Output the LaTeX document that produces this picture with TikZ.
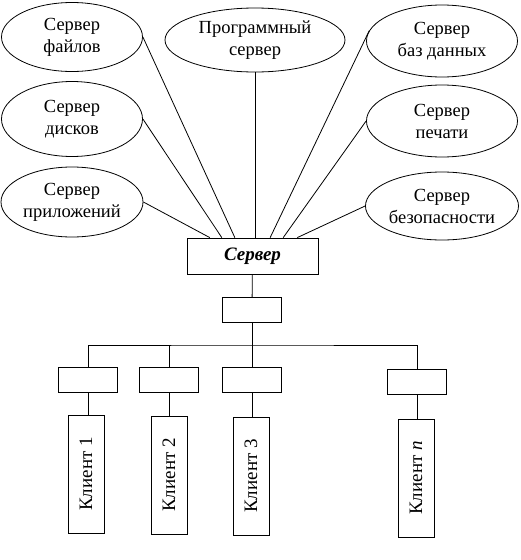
\documentclass[tikz,border=0pt]{standalone}
\usepackage{fontspec}
\setmainfont{Liberation Serif}
\usetikzlibrary{shapes.geometric, calc}

\begin{document}
\begin{tikzpicture}[x=1pt, y=-1pt, line width=0.8pt,
    srvell/.style={draw, ellipse, align=center, inner sep=0pt,
        font=\fontsize{18.5}{22}\selectfont},
    hubbox/.style={draw, rectangle, inner sep=0pt, minimum width=59pt, minimum height=25pt},
    clbox/.style={draw, rectangle, rotate=90, inner sep=0pt,
        minimum width=118pt, minimum height=36pt, font=\fontsize{19}{22}\selectfont}]

    \useasboundingbox (0,0) rectangle (521,560);

    % --- SERVER ELLIPSES, LEFT COLUMN ---
    \node[srvell, minimum width=141pt, minimum height=69pt] (ef) at (72,37) {Сервер\\файлов};
    \node[srvell, minimum width=141pt, minimum height=75pt] (ed) at (72,119) {Сервер\\дисков};
    \node[srvell, minimum width=142pt, minimum height=70pt] (ea) at (72,202) {Сервер\\приложений};

    % --- MIDDLE ELLIPSE ---
    \node[srvell, minimum width=180pt, minimum height=64pt] (ep) at (255,40) {Программный\\сервер};

    % --- SERVER ELLIPSES, RIGHT COLUMN ---
    \node[srvell, minimum width=151pt, minimum height=72pt] (eb) at (442,41) {Сервер\\баз данных};
    \node[srvell, minimum width=151pt, minimum height=72pt] (epc) at (442,121) {Сервер\\печати};
    \node[srvell, minimum width=153pt, minimum height=68pt] (es) at (442,206) {Сервер\\безопасности};

    % --- CENTRAL SERVER AND HUB ---
    \node[draw, rectangle, minimum width=131pt, minimum height=36pt,
        font=\fontsize{19}{22}\selectfont\bfseries\itshape] (srv) at (252.5,256) {Сервер};
    \node[hubbox] (hub) at (252,310) {};

    % --- LINKS FROM ELLIPSES TO SERVER ---
    \draw (ea.east) -- ($(srv.north west)!.176!(srv.north east)$);
    \draw (ed.east) -- ($(srv.north west)!.267!(srv.north east)$);
    \draw (ef.east) -- ($(srv.north west)!.366!(srv.north east)$);
    \draw (ep.south) -- (ep.south |- srv.north);
    \draw (eb.172) -- ($(srv.north west)!.634!(srv.north east)$);
    \draw (epc.west) -- ($(srv.north west)!.733!(srv.north east)$);
    \draw (es.west) -- ($(srv.north west)!.84!(srv.north east)$);
    \draw (srv) -- (hub);

    % --- CLIENT ADAPTERS ---
    \node[hubbox] (b1) at (88,380) {};
    \node[hubbox] (b2) at (169,380) {};
    \node[hubbox] (b3) at (252,380) {};
    \node[hubbox] (bn) at (417,382) {};

    % --- CLIENTS ---
    \node[clbox] (c1) at (86,474) {Клиент 1};
    \node[clbox] (c2) at (169,475) {Клиент 2};
    \node[clbox] (c3) at (251,476) {Клиент 3};
    \node[clbox] (cn) at (416,478) {Клиент \textit{n}};

    % --- BUS ---
    \coordinate (bus) at (252,345);
    \draw (hub) -- (b3);
    \draw (b1.north) |- (bus) -| (bn.north);
    \draw (b2.north) -- (b2.north |- bus);

    % --- ADAPTER TO CLIENT LINKS ---
    \draw (b1) -- (b1 |- c1.east);
    \draw (b2) -- (c2);
    \draw (b3.south) -- (b3.south |- c3.east);
    \draw (bn.south) -- (bn.south |- cn.east);

\end{tikzpicture}
\end{document}
